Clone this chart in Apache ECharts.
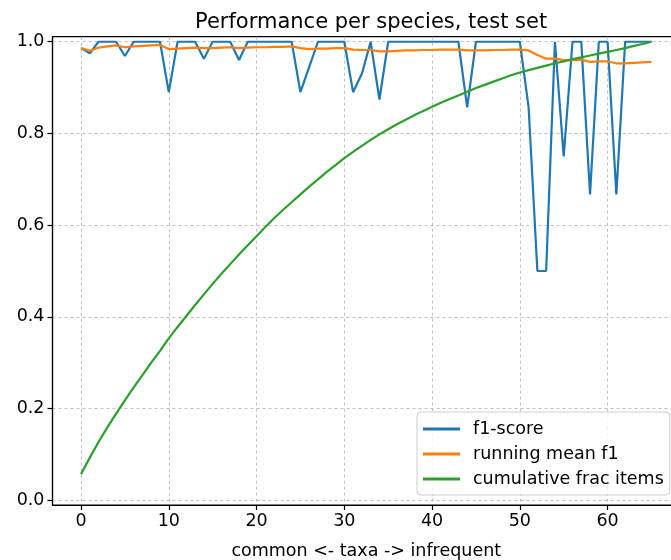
<!DOCTYPE html>
<html>
<head>
<meta charset="utf-8">
<script src="https://cdn.jsdelivr.net/npm/echarts@6/dist/echarts.min.js"></script>
<style>html,body{margin:0;padding:0;background:#fff}#c{width:671px;height:560px}</style>
</head>
<body>
<div id="c"></div>
<script>
var taxaIndex = [];
for (var i = 0; i <= 65; i++) taxaIndex.push(i);

var f1Score = [0.986,0.975,1,1,1,0.969,1,1,1,1,
  0.89,1,1,1,0.963,1,1,1,0.96,1,
  1,1,1,1,1,0.89,0.945,1,1,1,
  1,0.89,0.93,1,0.874,1,1,1,1,1,
  1,1,1,1,0.857,1,1,1,1,1,
  1,0.857,0.5,0.5,1,0.75,1,1,0.667,1,
  1,0.667,1,1,1,1];

var runningMeanF1 = [0.986,0.9805,0.987,0.990,0.992,0.988,0.990,0.991,0.992,0.993,
  0.984,0.985,0.986,0.987,0.986,0.986,0.987,0.988,0.986,0.987,
  0.988,0.988,0.989,0.989,0.990,0.986,0.984,0.985,0.985,0.986,
  0.986,0.983,0.982,0.982,0.979,0.979,0.980,0.981,0.981,0.982,
  0.982,0.983,0.983,0.983,0.981,0.981,0.981,0.982,0.982,0.983,
  0.983,0.981,0.971,0.963,0.963,0.960,0.960,0.961,0.956,0.957,
  0.957,0.953,0.953,0.954,0.955,0.956];

var cumFracItems = [0.057,0.093,0.127,0.159,0.189,0.218,0.246,0.273,0.300,0.326,
  0.353,0.378,0.402,0.426,0.449,0.472,0.494,0.515,0.536,0.556,
  0.576,0.596,0.615,0.633,0.650,0.667,0.684,0.700,0.716,0.731,
  0.746,0.760,0.773,0.786,0.798,0.809,0.820,0.830,0.840,0.849,
  0.858,0.867,0.875,0.883,0.891,0.899,0.906,0.913,0.920,0.927,
  0.933,0.938,0.943,0.948,0.953,0.957,0.962,0.966,0.970,0.974,
  0.978,0.982,0.986,0.991,0.995,1.0];

var seriesNames = ['f1-score', 'running mean f1', 'cumulative frac items'];
var seriesColors = ['#1f77b4', '#ff7f0e', '#2ca02c'];
var seriesData = [f1Score, runningMeanF1, cumFracItems];

function pairs(arr) {
  return arr.map(function (v, i) { return [taxaIndex[i], v]; });
}

var font = 'DejaVu Sans';
var chart = echarts.init(document.getElementById('c'), null, {renderer: 'canvas'});
chart.setOption({
  animation: false,
  backgroundColor: '#fff',
  textStyle: {fontFamily: font},
  title: {
    text: 'Performance per species, test set',
    left: 190, top: 7,
    textStyle: {fontFamily: font, fontSize: 21, fontWeight: 'normal', color: '#000'}
  },
  grid: {
    left: 52.5, top: 36.7, right: -9, bottom: 55,
    containLabel: false, outerBoundsMode: 'none',
    show: true, borderColor: '#000', borderWidth: 1.2, backgroundColor: 'transparent'
  },
  legend: {
    orient: 'vertical',
    left: 417, top: 412,
    data: seriesNames.map(function (n) { return {name: n, icon: 'rect'}; }),
    itemWidth: 37, itemHeight: 3, itemGap: 7,
    padding: [8, 6, 7, 6],
    backgroundColor: 'rgba(255,255,255,0.8)',
    borderColor: '#cccccc', borderWidth: 1, borderRadius: 4,
    textStyle: {fontFamily: font, fontSize: 17.5, color: '#000', padding: [0, 0, 0, 8]}
  },
  xAxis: {
    type: 'value', min: -3.25, max: 68.25, splitNumber: 5,
    name: 'common <- taxa -> infrequent', nameLocation: 'middle', nameGap: 37,
    nameTextStyle: {fontFamily: font, fontSize: 17.5, color: '#000'},
    axisLine: {show: true, onZero: false, lineStyle: {color: '#000', width: 1.2}},
    axisTick: {show: true, inside: false, length: 5, lineStyle: {color: '#000', width: 1.2}},
    axisLabel: {
      fontFamily: font, fontSize: 17.5, color: '#000', margin: 7,
      showMinLabel: false, showMaxLabel: false,
      formatter: function (v) { return (Math.abs(v % 10) < 1e-9) ? String(v) : ''; }
    },
    splitLine: {show: true, showMinLine: false, showMaxLine: false,
      lineStyle: {color: '#b0b0b0', width: 0.8, type: [3, 3]}}
  },
  yAxis: {
    type: 'value', min: -0.0103, max: 1.011, splitNumber: 5,
    axisLine: {show: true, onZero: false, lineStyle: {color: '#000', width: 1.2}},
    axisTick: {show: true, inside: false, length: 5, lineStyle: {color: '#000', width: 1.2}},
    axisLabel: {
      fontFamily: font, fontSize: 17.5, color: '#000', margin: 8,
      showMinLabel: false, showMaxLabel: false,
      formatter: function (v) { return v.toFixed(1); }
    },
    splitLine: {show: true, showMinLine: false, showMaxLine: false,
      lineStyle: {color: '#b0b0b0', width: 0.8, type: [3, 3]}}
  },
  series: seriesNames.map(function (n, k) {
    return {
      name: n, type: 'line', data: pairs(seriesData[k]),
      symbol: 'none', showSymbol: false,
      lineStyle: {color: seriesColors[k], width: 2.2},
      itemStyle: {color: seriesColors[k]},
      emphasis: {disabled: true}
    };
  })
});
</script>
</body>
</html>
